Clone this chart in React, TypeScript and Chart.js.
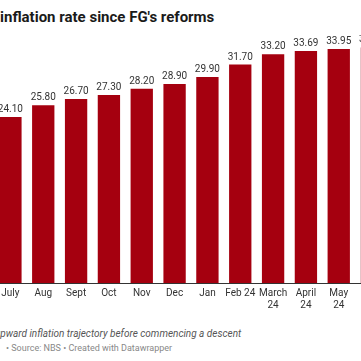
import React, { useEffect, useRef } from "react";
import { Chart, registerables } from "chart.js";

Chart.register(...registerables);

const categories: (string | string[])[] = [
  "July", "Aug", "Sept", "Oct", "Nov", "Dec", "Jan", "Feb 24",
  ["March", "24"], ["April", "24"], ["May", "24"], ["June", "24"],
];
const inflation: number[] = [24.1, 25.8, 26.7, 27.3, 28.2, 28.9, 29.9, 31.7, 33.2, 33.69, 33.95, 34.19];
const valueLabels: string[] = ["24.10", "25.80", "26.70", "27.30", "28.20", "28.90", "29.90", "31.70", "33.20", "33.69", "33.95", "34.19"];
const barColors: string[] = [
  "#a5000f", "#a5000f", "#a5000f", "#a5000f", "#a5000f", "#a5000f",
  "#a5000f", "#a5000f", "#a5000f", "#a5000f", "#a5000f", "#d39aa0",
];

const FONT = "Roboto, 'Noto Sans', sans-serif";

const labelPlugin = {
  id: "valueLabels",
  afterDatasetsDraw(chart: any) {
    const ctx = chart.ctx;
    const meta = chart.getDatasetMeta(0);
    ctx.save();
    ctx.font = `10px ${FONT}`;
    ctx.fillStyle = "#333333";
    ctx.textAlign = "center";
    ctx.textBaseline = "alphabetic";
    meta.data.forEach((bar: any, i: number) => {
      ctx.fillText(valueLabels[i], bar.x, bar.y - 5);
    });
    ctx.restore();
  },
};

export default function App() {
  const ref = useRef<HTMLCanvasElement | null>(null);
  useEffect(() => {
    if (!ref.current) return;
    const chart = new Chart(ref.current, {
      type: "bar",
      data: {
        labels: categories,
        datasets: [
          {
            data: inflation,
            backgroundColor: barColors,
            borderWidth: 0,
            barPercentage: 0.68,
            categoryPercentage: 1,
          },
        ],
      },
      options: {
        animation: false,
        responsive: false,
        maintainAspectRatio: false,
        layout: { padding: 0 },
        plugins: { legend: { display: false }, tooltip: { enabled: false } },
        scales: {
          x: {
            grid: { display: false, drawTicks: false },
            border: { display: true, color: "#333333", width: 1 },
            ticks: {
              color: "#333333",
              font: { family: FONT, size: 10 },
              padding: 4,
              maxRotation: 0,
              autoSkip: false,
            },
          },
          y: { display: false, min: 0, max: 36 },
        },
      },
      plugins: [labelPlugin],
    });
    return () => chart.destroy();
  }, []);

  return (
    <div
      style={{
        position: "fixed",
        left: 0,
        top: 0,
        width: 361,
        height: 361,
        overflow: "hidden",
        background: "#ffffff",
        fontFamily: FONT,
      }}
    >
      <div
        style={{
          position: "absolute",
          left: 0,
          top: 7,
          fontSize: 15,
          fontWeight: 700,
          color: "#1a1a1a",
          whiteSpace: "nowrap",
          lineHeight: "20px",
        }}
      >
        inflation rate since FG's reforms
      </div>
      <canvas
        ref={ref}
        width={394}
        height={280}
        style={{ position: "absolute", left: -6.4, top: 35, width: 394, height: 280 }}
      />
      <div
        style={{
          position: "absolute",
          left: -5,
          top: 327,
          fontSize: 10,
          fontStyle: "italic",
          color: "#555555",
          whiteSpace: "nowrap",
          lineHeight: "14px",
        }}
      >
        upward inflation trajectory before commencing a descent
      </div>
      <div
        style={{
          position: "absolute",
          left: 6,
          top: 342,
          fontSize: 9,
          color: "#888888",
          whiteSpace: "nowrap",
          lineHeight: "12px",
        }}
      >
        • Source: NBS • Created with Datawrapper
      </div>
    </div>
  );
}
